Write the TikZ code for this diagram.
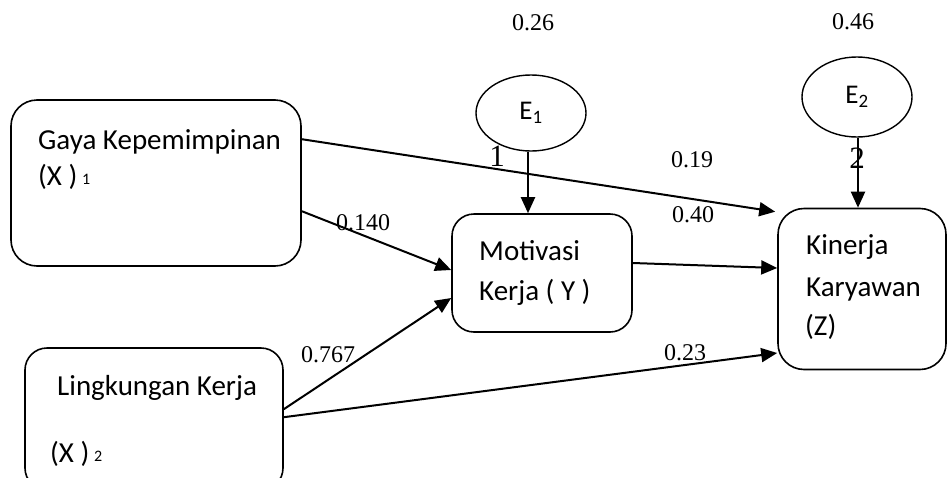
\documentclass[tikz,border=0pt]{standalone}
\usepackage{fontspec}
\setmainfont{Liberation Serif}
\newfontfamily\boxfont{Carlito}
\usetikzlibrary{arrows.meta,shapes.geometric}

\tikzset{
  var/.style={draw, line width=1.6pt, rounded corners=26pt, inner sep=0pt},
  err/.style={draw, ellipse, line width=1.4pt, inner sep=0pt,
              font=\boxfont\fontsize{27}{31}\selectfont},
  boxtext/.style={anchor=base west, inner sep=0pt,
                  font=\boxfont\fontsize{29}{33}\selectfont},
  coef/.style={inner sep=0pt, font=\fontsize{24}{28}\selectfont},
  bigcoef/.style={inner sep=0pt, font=\fontsize{31}{35}\selectfont},
  path/.style={line width=2pt, -{Triangle[length=16pt,width=14pt]}},
}
\newcommand{\smallidx}[1]{\raisebox{1pt}{\fontsize{16}{18}\selectfont #1}}

\begin{document}
\begin{tikzpicture}[x=1pt,y=-1pt]
\useasboundingbox (0,0) rectangle (948,477);

% latent variable boxes
\node[var, minimum width=290pt, minimum height=166pt] (gaya) at (156,183) {};
\node[var, minimum width=258pt, minimum height=142pt, rounded corners=22pt] (ling) at (154,419) {};
\node[var, minimum width=180pt, minimum height=118pt, rounded corners=22pt] (motiv) at (542,273) {};
\node[var, minimum width=168pt, minimum height=161pt] (kin) at (862,289) {};

% error terms
\node[err, minimum width=110pt, minimum height=76pt] (e1) at (531,113) {E\textsubscript{1}};
\node[err, minimum width=110pt, minimum height=80pt] (e2) at (857,97) {E\textsubscript{2}};

% box texts
\node[boxtext] (tg1) at (38,149) {Gaya Kepemimpinan};
\node[boxtext] (tg2) at (38,185) {(X )\,\smallidx{1}};
\node[boxtext] (tl1) at (57,395) {Lingkungan Kerja};
\node[boxtext] (tl2) at (50,462) {(X )\,\smallidx{2}};
\node[boxtext] (tm1) at (479,260) {Motivasi};
\node[boxtext] (tm2) at (479,300) {Kerja ( Y )};
\node[boxtext] (tk1) at (806,254) {Kinerja};
\node[boxtext] (tk2) at (806,296) {Karyawan};
\node[boxtext] (tk3) at (805,335) {(Z)};

% connection points on the box borders
\coordinate (gA) at ([yshift=-40pt]gaya.north east);
\coordinate (gB) at ([yshift=-112pt]gaya.north east);
\coordinate (lA) at ([yshift=-62pt]ling.north east);
\coordinate (lB) at ([yshift=-70pt]ling.north east);
\coordinate (mIn1) at ([yshift=3pt]motiv.west);
\coordinate (mIn2) at ([yshift=-25pt]motiv.west);
\coordinate (mOut) at ([yshift=10pt]motiv.east);
\coordinate (kTop) at ([xshift=-2pt,yshift=-4pt]kin.north west);
\coordinate (kMid) at ([yshift=21pt]kin.west);
\coordinate (kLow) at ([yshift=-64pt]kin.west);

% paths
\draw[path] (gA) -- (kTop);
\draw[path] (gB) -- (mIn1);
\draw[path] (lA) -- (mIn2);
\draw[path] (lB) -- (kLow);
\draw[path] (mOut) -- (kMid);
\draw[path] ([xshift=-3pt]e1.south) -- ([xshift=-14pt]motiv.north);
\draw[path] ([xshift=1pt]e2.south) -- ([xshift=-4pt]kin.north);

% coefficients
\node[coef, anchor=base] (c26) at (533,30) {0.26};
\node[coef, anchor=base] (c46) at (853,29) {0.46};
\node[coef, anchor=base] (c19) at (692,167) {0.19};
\node[coef, anchor=base] (c40) at (693,222) {0.40};
\node[coef, anchor=base] (c140) at (363,230) {0.140};
\node[coef, anchor=base] (c767) at (328,362) {0.767};
\node[coef, anchor=base] (c23) at (685,360) {0.23};
\node[bigcoef, anchor=base] (n1) at (497,166) {1};
\node[bigcoef, anchor=base] (n2) at (857,168) {2};
\end{tikzpicture}
\end{document}
